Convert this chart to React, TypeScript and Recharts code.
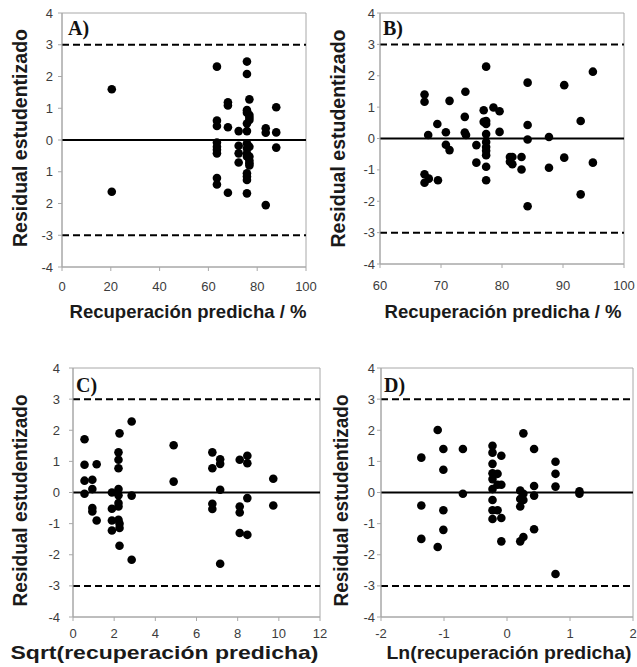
import React from 'react';
import {
  ScatterChart,
  Scatter,
  XAxis,
  YAxis,
  ReferenceLine,
  ReferenceArea,
  Label,
} from 'recharts';

// Panel A: residual vs predicted recovery (%)
const predA = [
  20.4, 20.4,
  63.5, 63.5, 63.5, 63.5, 63.5, 63.5, 63.5, 63.5, 63.5,
  68, 68, 68, 68,
  72.4, 72.4, 72.4, 72.4,
  75.8, 75.8, 75.8, 75.8, 75.8, 75.8, 75.8, 75.8, 75.8, 75.8, 75.8, 75.8, 75.8, 75.8,
  76.8, 76.8, 76.8, 76.8, 76.8, 76.8, 76.8, 76.8, 76.8,
  83.5, 83.5, 83.5,
  87.8, 87.8, 87.8,
];
const residA = [
  1.6, -1.63,
  2.31, 0.61, 0.44, -0.08, -0.21, -0.31, -0.42, -1.2, -1.4,
  1.19, 1.09, 0.4, -1.66,
  0.28, -0.18, -0.42, -0.71,
  2.47, 2.08, 0.94, 0.86, 0.52, 0.28, -0.1, -0.26, -0.42, -0.52, -1.05, -1.15, -1.26, -1.68,
  1.28, 0.79, 0.71, 0.63, -0.21, -0.52, -0.65, -0.73, -0.8,
  0.37, 0.23, -2.05,
  1.03, 0.24, -0.24,
];

// Panel B
const predB = [
  67.3, 67.3, 67.9, 67.3, 67.3, 68.0, 69.4, 69.5, 70.8, 70.8, 71.4, 71.4,
  74.0, 73.9, 73.9, 74.1, 75.8, 75.8, 77.0, 77.0,
  77.4, 77.4, 77.4, 77.4, 77.4, 77.4, 77.4, 77.4, 77.4, 77.4,
  78.6, 79.6, 79.6, 81.3, 81.3, 81.7, 81.7, 83.2, 83.2,
  84.2, 84.2, 84.2, 84.2, 87.7, 87.7, 90.2, 90.2, 92.9, 92.9, 94.9, 94.9,
];
const residB = [
  1.4, 1.17, 0.11, -1.14, -1.41, -1.28, 0.46, -1.33, 0.2, -0.2, 1.2, -0.37,
  1.49, 0.69, 0.19, 0.11, -0.21, -0.77, 0.9, 0.53,
  2.29, 0.56, 0.46, 0.14, -0.11, -0.27, -0.39, -0.53, -0.9, -1.33,
  0.99, 0.87, 0.21, -0.59, -0.74, -0.82, -0.59, -0.59, -0.99,
  1.78, 0.43, -0.03, -2.16, 0.05, -0.93, 1.7, -0.61, 0.56, -1.78, 2.13, -0.77,
];

// Panel C: sqrt transform
const predC = [
  0.56, 0.56, 0.56, 0.56, 0.94, 0.94, 0.94, 0.94, 1.15, 1.15,
  1.89, 1.89, 1.89, 1.89,
  2.26, 2.21, 2.21, 2.21, 2.21, 2.21, 2.21, 2.21, 2.21, 2.26, 2.26, 2.26,
  2.85, 2.85, 2.85, 4.89, 4.89,
  6.77, 6.77, 6.77, 6.77, 7.15, 7.15, 7.15, 7.15,
  8.1, 8.1, 8.1, 8.1, 8.47, 8.47, 8.47, 8.47, 9.73, 9.73,
];
const residC = [
  1.71, 0.89, 0.38, -0.04, 0.41, 0.11, -0.5, -0.61, 0.91, -0.9,
  0.0, -0.52, -0.9, -1.22,
  1.9, 1.29, 1.05, 0.78, 0.11, -0.09, -0.34, -0.45, -0.88, -1.0, -1.14, -1.71,
  2.28, -0.1, -2.16, 1.52, 0.35,
  1.29, 0.78, -0.36, -0.53, 1.07, 0.92, 0.09, -2.29,
  1.05, -0.45, -0.64, -1.3, 1.18, 0.94, -0.18, -1.36, 0.44, -0.42,
];

// Panel D: ln transform
const predD = [
  -1.36, -1.36, -1.36, -1.1, -1.1, -1.01, -1.01, -1.01, -1.01, -0.7, -0.7,
  -0.23, -0.23, -0.23, -0.23, -0.23, -0.23, -0.23, -0.23, -0.23,
  -0.15, -0.15, -0.15, -0.09, -0.09, -0.09, -0.09,
  0.21, 0.21, 0.21, 0.21, 0.26, 0.26, 0.26, 0.26,
  0.43, 0.43, 0.43, 0.43, 0.77, 0.77, 0.77, 0.77, 1.15, 1.15,
];
const residD = [
  1.12, -0.42, -1.49, 2.01, -1.75, 1.4, 0.73, -0.57, -1.2, 1.4, -0.04,
  1.5, 1.28, 0.92, 0.62, 0.43, 0.11, -0.24, -0.57, -0.85,
  0.6, 0.25, -0.57, 1.18, 0.25, -0.82, -1.57,
  0.06, -0.21, -0.45, -1.57, 1.9, -0.04, -0.24, -1.43,
  1.4, 0.21, -0.1, -1.18, 0.99, 0.6, 0.19, -2.62, 0.04, -0.04,
];

const yTicks = [-4, -3, -2, -1, 0, 1, 2, 3, 4];
// panel A prints some negative labels without the minus sign
const yTickLabelsA = ['-4', '-3', '2', '1', '0', '1', '2', '3', '4'];
const yTickLabels = ['-4', '-3', '-2', '-1', '0', '1', '2', '3', '4'];

const xTicksA = [0, 20, 40, 60, 80, 100];
const xTicksB = [60, 70, 80, 90, 100];
const xTicksC = [0, 2, 4, 6, 8, 10, 12];
const xTicksD = [-2, -1, 0, 1, 2];

const titleY = 'Residual estudentizado';
const titleXA = 'Recuperación predicha / %';
const titleXC = 'Sqrt(recuperación predicha)';
const titleXD = 'Ln(recuperación predicha)';

const toPoints = (xs: number[], ys: number[]) => xs.map((x, i) => ({ x, y: ys[i] }));

const axisGrey = '#a8a8a8';
const tickStyle = { fill: '#3c3c3c', fontSize: 13, fontFamily: 'Liberation Sans, Arial, sans-serif' };
const titleFont = 'Liberation Sans, Arial, sans-serif';

const Dot = (props: any) => <circle cx={props.cx} cy={props.cy} r={4.3} fill="#000" />;

interface PanelProps {
  tag: string;
  data: { x: number; y: number }[];
  xTicks: number[];
  yLabels: string[];
  xTitle: string;
  left: number;
  top: number;
  width: number;
  height: number;
  margin: { top: number; right: number; left: number; bottom: number };
  yAxisWidth: number;
  xAxisHeight: number;
  yTickSize: number;
  yTickMargin: number;
  xTickMargin: number;
  xTitleDx: number;
  xTitleDy: number;
  xTitleLen: number;
  yTitleX: number;
  yTitleDy: number;
  yTitleLen: number;
  tagDx: number;
  tagDy: number;
}

function Panel(p: PanelProps) {
  const xDomain = [p.xTicks[0], p.xTicks[p.xTicks.length - 1]];
  return (
    <div style={{ position: 'absolute', left: p.left, top: p.top, width: p.width, height: p.height }}>
      <ScatterChart width={p.width} height={p.height} margin={p.margin}>
        <XAxis
          type="number"
          dataKey="x"
          domain={xDomain}
          ticks={p.xTicks}
          interval={0}
          height={p.xAxisHeight}
          stroke={axisGrey}
          tickSize={4}
          tickMargin={p.xTickMargin}
          tick={tickStyle}
        >
          <Label
            content={(lp: any) => {
              const vb = lp.viewBox;
              return (
                <text
                  x={vb.x + vb.width / 2 + p.xTitleDx}
                  y={vb.y + p.xTitleDy}
                  textAnchor="middle"
                  fontFamily={titleFont}
                  fontWeight="bold"
                  fontSize={19}
                  fill="#1a1a1a"
                  textLength={p.xTitleLen}
                  lengthAdjust="spacingAndGlyphs"
                >
                  {p.xTitle}
                </text>
              );
            }}
          />
        </XAxis>
        <YAxis
          type="number"
          dataKey="y"
          domain={[-4, 4]}
          ticks={yTicks}
          interval={0}
          width={p.yAxisWidth}
          stroke={axisGrey}
          tickSize={p.yTickSize}
          tickMargin={p.yTickMargin}
          tick={tickStyle}
          tickFormatter={(v: number) => p.yLabels[yTicks.indexOf(v)]}
        >
          <Label
            content={(lp: any) => {
              const vb = lp.viewBox;
              const x = vb.x + p.yTitleX;
              const y = vb.y + vb.height / 2 + p.yTitleDy;
              return (
                <text
                  x={x}
                  y={y}
                  transform={`rotate(-90, ${x}, ${y})`}
                  textAnchor="middle"
                  fontFamily={titleFont}
                  fontWeight="bold"
                  fontSize={20}
                  fill="#1a1a1a"
                  textLength={p.yTitleLen}
                  lengthAdjust="spacingAndGlyphs"
                >
                  {titleY}
                </text>
              );
            }}
          />
        </YAxis>
        <ReferenceArea
          x1={xDomain[0]}
          x2={xDomain[1]}
          y1={-4}
          y2={4}
          fill="none"
          stroke={axisGrey}
          strokeWidth={1}
          label={
            <Label
              content={(lp: any) => {
                const vb = lp.viewBox;
                return (
                  <text
                    x={vb.x + p.tagDx}
                    y={vb.y + p.tagDy}
                    fontFamily="Liberation Serif, Times New Roman, serif"
                    fontWeight="bold"
                    fontSize={20}
                    fill="#111"
                  >
                    {p.tag}
                  </text>
                );
              }}
            />
          }
        />
        <ReferenceLine y={3} stroke="#000" strokeWidth={2} strokeDasharray="7 4" />
        <ReferenceLine y={0} stroke="#000" strokeWidth={2.2} />
        <ReferenceLine y={-3} stroke="#000" strokeWidth={2} strokeDasharray="7 4" />
        <Scatter data={p.data} shape={Dot} isAnimationActive={false} />
      </ScatterChart>
    </div>
  );
}

export default function App() {
  return (
    <div style={{ position: 'absolute', left: 0, top: 0, width: 637, height: 667, background: '#fff' }}>
      <Panel
        tag="A)"
        data={toPoints(predA, residA)}
        xTicks={xTicksA}
        yLabels={yTickLabelsA}
        xTitle={titleXA}
        left={0}
        top={0}
        width={318}
        height={333}
        margin={{ top: 13, right: 12, left: 0, bottom: 0 }}
        yAxisWidth={62}
        xAxisHeight={66}
        yTickSize={4}
        yTickMargin={5}
        xTickMargin={11}
        xTitleDx={4}
        xTitleDy={51}
        xTitleLen={237}
        yTitleX={27}
        yTitleDy={-2}
        yTitleLen={218}
        tagDx={6}
        tagDy={22}
      />
      <Panel
        tag="B)"
        data={toPoints(predB, residB)}
        xTicks={xTicksB}
        yLabels={yTickLabels}
        xTitle={titleXA}
        left={318}
        top={0}
        width={319}
        height={333}
        margin={{ top: 13, right: 13, left: 0, bottom: 0 }}
        yAxisWidth={62}
        xAxisHeight={69}
        yTickSize={3}
        yTickMargin={2}
        xTickMargin={13}
        xTitleDx={1}
        xTitleDy={54}
        xTitleLen={237}
        yTitleX={27}
        yTitleDy={0}
        yTitleLen={218}
        tagDx={3}
        tagDy={22}
      />
      <Panel
        tag="D)"
        data={toPoints(predD, residD)}
        xTicks={xTicksD}
        yLabels={yTickLabels}
        xTitle={titleXD}
        left={325}
        top={333}
        width={312}
        height={334}
        margin={{ top: 35, right: 4, left: 0, bottom: 0 }}
        yAxisWidth={56}
        xAxisHeight={50}
        yTickSize={4}
        yTickMargin={2}
        xTickMargin={8}
        xTitleDx={2}
        xTitleDy={42}
        xTitleLen={245}
        yTitleX={23}
        yTitleDy={8}
        yTitleLen={212}
        tagDx={3}
        tagDy={24}
      />
      <Panel
        tag="C)"
        data={toPoints(predC, residC)}
        xTicks={xTicksC}
        yLabels={yTickLabels}
        xTitle={titleXC}
        left={0}
        top={333}
        width={334}
        height={334}
        margin={{ top: 35, right: 14, left: 0, bottom: 0 }}
        yAxisWidth={73}
        xAxisHeight={50}
        yTickSize={4}
        yTickMargin={9}
        xTickMargin={8}
        xTitleDx={-32}
        xTitleDy={42}
        xTitleLen={308}
        yTitleX={27}
        yTitleDy={8}
        yTitleLen={212}
        tagDx={3}
        tagDy={24}
      />
    </div>
  );
}
